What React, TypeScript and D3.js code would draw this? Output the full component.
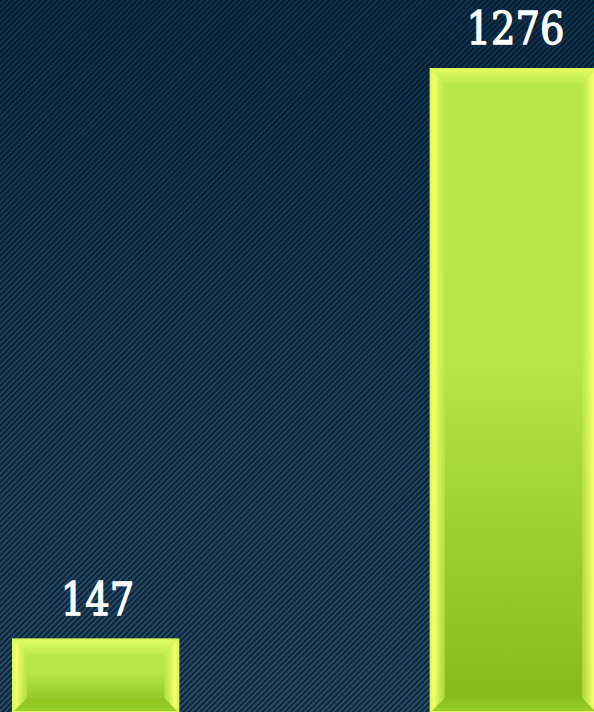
import React, { useRef, useEffect } from 'react';
import * as d3 from 'd3';

const categories = ['A', 'B'];
const values = [147, 1276];

const width = 594;
const height = 712;

const App = () => {
  const svgRef = useRef<SVGSVGElement>(null);

  useEffect(() => {
    const svg = d3.select(svgRef.current);
    svg.selectAll('*').remove();
    const defs = svg.append('defs');

    // fond : dégradé + rayures diagonales
    const bg = defs.append('linearGradient').attr('id', 'bgGrad')
      .attr('x1', 0).attr('y1', 0).attr('x2', 0).attr('y2', 1);
    bg.append('stop').attr('offset', '0%').attr('stop-color', '#0d3350');
    bg.append('stop').attr('offset', '100%').attr('stop-color', '#264e6a');

    const pat = defs.append('pattern').attr('id', 'stripes')
      .attr('patternUnits', 'userSpaceOnUse')
      .attr('width', 4).attr('height', 4)
      .attr('patternTransform', 'rotate(45)');
    pat.append('rect').attr('width', 2).attr('height', 4).attr('fill', 'rgba(2,12,22,0.6)');

    svg.append('rect').attr('width', width).attr('height', height).attr('fill', 'url(#bgGrad)');
    svg.append('rect').attr('width', width).attr('height', height).attr('fill', 'url(#stripes)');

    // dégradés des barres
    const face = defs.append('linearGradient').attr('id', 'faceGrad')
      .attr('x1', 0).attr('y1', 0).attr('x2', 0).attr('y2', 1);
    face.append('stop').attr('offset', '0%').attr('stop-color', '#b8e84c');
    face.append('stop').attr('offset', '45%').attr('stop-color', '#b6e64a');
    face.append('stop').attr('offset', '100%').attr('stop-color', '#86b818');

    const left = defs.append('linearGradient').attr('id', 'leftGrad')
      .attr('x1', 0).attr('y1', 0).attr('x2', 1).attr('y2', 0);
    left.append('stop').attr('offset', '0%').attr('stop-color', '#e2fc5a');
    left.append('stop').attr('offset', '30%').attr('stop-color', '#f4ff6a');
    left.append('stop').attr('offset', '100%').attr('stop-color', '#bfe94e').attr('stop-opacity', 0.6);

    const right = defs.append('linearGradient').attr('id', 'rightGrad')
      .attr('x1', 1).attr('y1', 0).attr('x2', 0).attr('y2', 0);
    right.append('stop').attr('offset', '0%').attr('stop-color', '#e2fc5a');
    right.append('stop').attr('offset', '30%').attr('stop-color', '#f4ff6a');
    right.append('stop').attr('offset', '100%').attr('stop-color', '#bfe94e').attr('stop-opacity', 0.6);

    const top = defs.append('linearGradient').attr('id', 'topGrad')
      .attr('x1', 0).attr('y1', 0).attr('x2', 0).attr('y2', 1);
    top.append('stop').attr('offset', '0%').attr('stop-color', '#e4fe60');
    top.append('stop').attr('offset', '100%').attr('stop-color', '#c6ef52').attr('stop-opacity', 0.7);

    const bottom = defs.append('linearGradient').attr('id', 'bottomGrad')
      .attr('x1', 0).attr('y1', 0).attr('x2', 0).attr('y2', 1);
    bottom.append('stop').attr('offset', '0%').attr('stop-color', '#8cc21c').attr('stop-opacity', 0.6);
    bottom.append('stop').attr('offset', '100%').attr('stop-color', '#9ed42a');

    // échelles
    const x = d3.scaleBand<string>()
      .domain(categories)
      .range([12, 597])
      .paddingInner(0.6)
      .paddingOuter(0);

    const y = d3.scaleLinear()
      .domain([0, d3.max(values) as number])
      .range([height + 1, 68]);

    const bev = 15;
    const data = categories.map((c, i) => ({ c, v: values[i] }));

    const bars = svg.selectAll('.bar').data(data).enter().append('g').attr('class', 'bar');

    bars.each(function (d) {
      const g = d3.select(this);
      const x0 = x(d.c) as number;
      const w = x.bandwidth();
      const y0 = y(d.v);
      const h = y(0) - y0;
      const b = Math.min(bev, h / 4);
      const x1 = x0 + w;
      const y1 = y0 + h;

      g.append('rect').attr('x', x0).attr('y', y0).attr('width', w).attr('height', h)
        .attr('fill', 'url(#faceGrad)');

      const poly = (pts: number[][]) => pts.map(p => p.join(',')).join(' ');
      g.append('polygon').attr('points', poly([[x0, y0], [x1, y0], [x1 - b, y0 + b], [x0 + b, y0 + b]]))
        .attr('fill', 'url(#topGrad)');
      g.append('polygon').attr('points', poly([[x0, y1], [x1, y1], [x1 - b, y1 - b], [x0 + b, y1 - b]]))
        .attr('fill', 'url(#bottomGrad)');
      g.append('polygon').attr('points', poly([[x0, y0], [x0 + b, y0 + b], [x0 + b, y1 - b], [x0, y1]]))
        .attr('fill', 'url(#leftGrad)');
      g.append('polygon').attr('points', poly([[x1, y0], [x1 - b, y0 + b], [x1 - b, y1 - b], [x1, y1]]))
        .attr('fill', 'url(#rightGrad)');

      g.append('rect').attr('x', x0 + 1).attr('y', y0 + 1).attr('width', w - 2).attr('height', h - 2)
        .attr('fill', 'none').attr('stroke', '#dcfa58').attr('stroke-width', 2);

      g.append('text')
        .attr('x', x0 + w / 2 + 2)
        .attr('y', y0 - 24)
        .attr('text-anchor', 'middle')
        .attr('textLength', String(d.v).length * 24.5)
        .attr('lengthAdjust', 'spacingAndGlyphs')
        .style('font-family', '"DejaVu Serif", serif')
        .style('font-size', '44px')
        .style('fill', '#ffffff')
        .style('stroke', '#ffffff')
        .style('stroke-width', 1.3)
        .text(d.v);
    });
  }, []);

  return (
    <svg ref={svgRef} width={width} height={height}
      style={{ position: 'absolute', left: 0, top: 0, display: 'block' }}></svg>
  );
};

export default App;
